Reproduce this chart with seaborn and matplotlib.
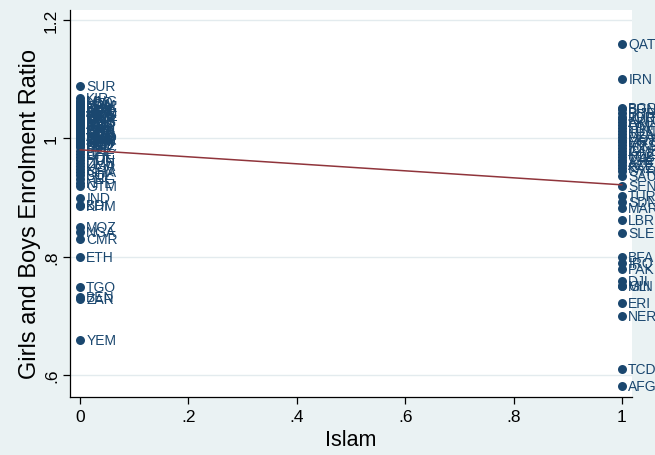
import matplotlib
matplotlib.use("Agg")
import matplotlib.pyplot as plt
import pandas as pd
import seaborn as sns

# Countries with Islam = 0
codes_0 = ["SUR", "KIR",
           "MNG", "LSO", "LCA", "NAM", "PHL", "BWA", "JAM", "URY", "ARG", "BRA",
           "NIC", "DOM", "COL", "VEN", "SWE", "GBR", "ISL", "FIN", "NOR", "TTO",
           "MUS", "NZL", "AUS", "IRL", "USA", "CAN", "FJI", "PAN", "CHL", "CRI",
           "BLR", "EST", "LVA", "LTU", "RUS", "MDA", "UKR", "ARM", "GEO", "THA",
           "VNM", "LKA", "CHN", "KOR", "JPN", "ESP", "FRA", "ITA", "DEU", "NLD",
           "PRT", "GRC",
           "BEL", "CHE", "POL", "HUN", "ZMB", "UGA", "KEN", "GHA", "BOL", "PNG",
           "NPL", "GTM", "IND", "BDI", "KHM", "MOZ", "NGA", "CMR", "ETH", "TGO",
           "BEN", "ZAR", "YEM"]
ratio_0 = [1.088, 1.068,
           1.063, 1.061, 1.058, 1.056, 1.054, 1.052, 1.050, 1.048, 1.047, 1.045,
           1.043, 1.042, 1.040, 1.038, 1.037, 1.035, 1.034, 1.032, 1.031, 1.029,
           1.028, 1.026, 1.025, 1.023, 1.022, 1.020, 1.019, 1.017, 1.016, 1.014,
           1.013, 1.012, 1.010, 1.009, 1.008, 1.006, 1.005, 1.004, 1.002, 1.001,
           1.000, 0.999, 0.997, 0.996, 0.995, 0.994, 0.993, 0.991, 0.990, 0.989,
           0.988, 0.986,
           0.978, 0.973, 0.968, 0.963, 0.958, 0.953, 0.948, 0.943, 0.938, 0.932,
           0.925, 0.919, 0.899, 0.887, 0.886, 0.850, 0.842, 0.830, 0.800, 0.749,
           0.731, 0.729, 0.659]

# Countries with Islam = 1
codes_1 = ["QAT", "IRN",
           "BGD", "BRN", "BHR", "JOR", "KWT", "ARE", "OMN", "LBY", "TUN", "MDV",
           "DZA", "MRT", "EGY", "MYS", "IDN", "GMB", "KGZ", "UZB", "TJK", "ALB",
           "AZE", "KAZ", "SYR",
           "SAU", "SEN", "TUR", "SDN", "MAR", "LBR", "SLE", "BFA", "IRQ", "PAK",
           "DJI", "GIN", "MLI", "ERI", "NER", "TCD", "AFG"]
ratio_1 = [1.159, 1.100,
           1.052, 1.049, 1.042, 1.036, 1.032, 1.027, 1.022, 1.018, 1.013, 1.008,
           1.003, 0.998, 0.994, 0.989, 0.984, 0.979, 0.974, 0.969, 0.964, 0.960,
           0.955, 0.950, 0.944,
           0.936, 0.920, 0.903, 0.893, 0.882, 0.862, 0.840, 0.800, 0.790, 0.780,
           0.759, 0.750, 0.750, 0.722, 0.700, 0.610, 0.581]

x_ticks = [0, 0.2, 0.4, 0.6, 0.8, 1.0]
x_ticklabels = ["0", ".2", ".4", ".6", ".8", "1"]
y_ticks = [0.6, 0.8, 1.0, 1.2]
y_ticklabels = [".6", ".8", "1", "1.2"]

df = pd.DataFrame({
    "country": codes_0 + codes_1,
    "islam": [0] * len(codes_0) + [1] * len(codes_1),
    "ratio": ratio_0 + ratio_1,
})

sns.set_theme(style="white")
plt.rcParams["font.family"] = ["Liberation Sans", "DejaVu Sans"]

NAVY = "#1a476f"
MAROON = "#90353b"
BG = "#eaf2f3"

W, H = 655, 456
fig = plt.figure(figsize=(W / 100, H / 100), dpi=100, facecolor=BG)
ax = fig.add_axes([70 / W, 1 - 398 / H, 562 / W, 387 / H])
ax.set_facecolor("white")

sns.scatterplot(data=df, x="islam", y="ratio", color=NAVY, s=42,
                linewidth=0, ax=ax, zorder=3, clip_on=False, legend=False)
for row in df.itertuples():
    ax.annotate(row.country, (row.islam, row.ratio), xytext=(4.5, 0),
                textcoords="offset points", ha="left", va="center",
                fontsize=10, color=NAVY, zorder=3, annotation_clip=False)
sns.regplot(data=df, x="islam", y="ratio", scatter=False, ci=None,
            color=MAROON, line_kws={"lw": 1.1, "zorder": 5}, ax=ax)

ax.set_xlim(-10 / 542, 1 + 10 / 542)
ax.set_ylim(0.6 - 22 / 591.7, 1.2 + 10 / 591.7)
ax.set_xticks(x_ticks)
ax.set_xticklabels(x_ticklabels)
ax.set_yticks(y_ticks)
ax.set_yticklabels(y_ticklabels, rotation=90, va="center")

ax.yaxis.grid(True, color="#e3ebee", lw=1)
ax.xaxis.grid(False)
ax.set_axisbelow(True)

for side in ["top", "right"]:
    ax.spines[side].set_visible(False)
for side in ["left", "bottom"]:
    ax.spines[side].set_color("black")
    ax.spines[side].set_linewidth(0.9)

ax.tick_params(axis="both", direction="out", length=5, width=0.9,
               color="black", labelcolor="black", labelsize=12.5,
               left=True, bottom=True)
ax.tick_params(axis="y", pad=3)
ax.tick_params(axis="x", pad=4)

ax.set_xlabel("Islam", fontsize=15.5, color="black", labelpad=3)
ax.set_ylabel("Girls and Boys Enrolment Ratio", fontsize=17, color="black")
ax.yaxis.set_label_coords(-0.052, 0.475)

fig.savefig("out.png", dpi=100, facecolor=BG)
